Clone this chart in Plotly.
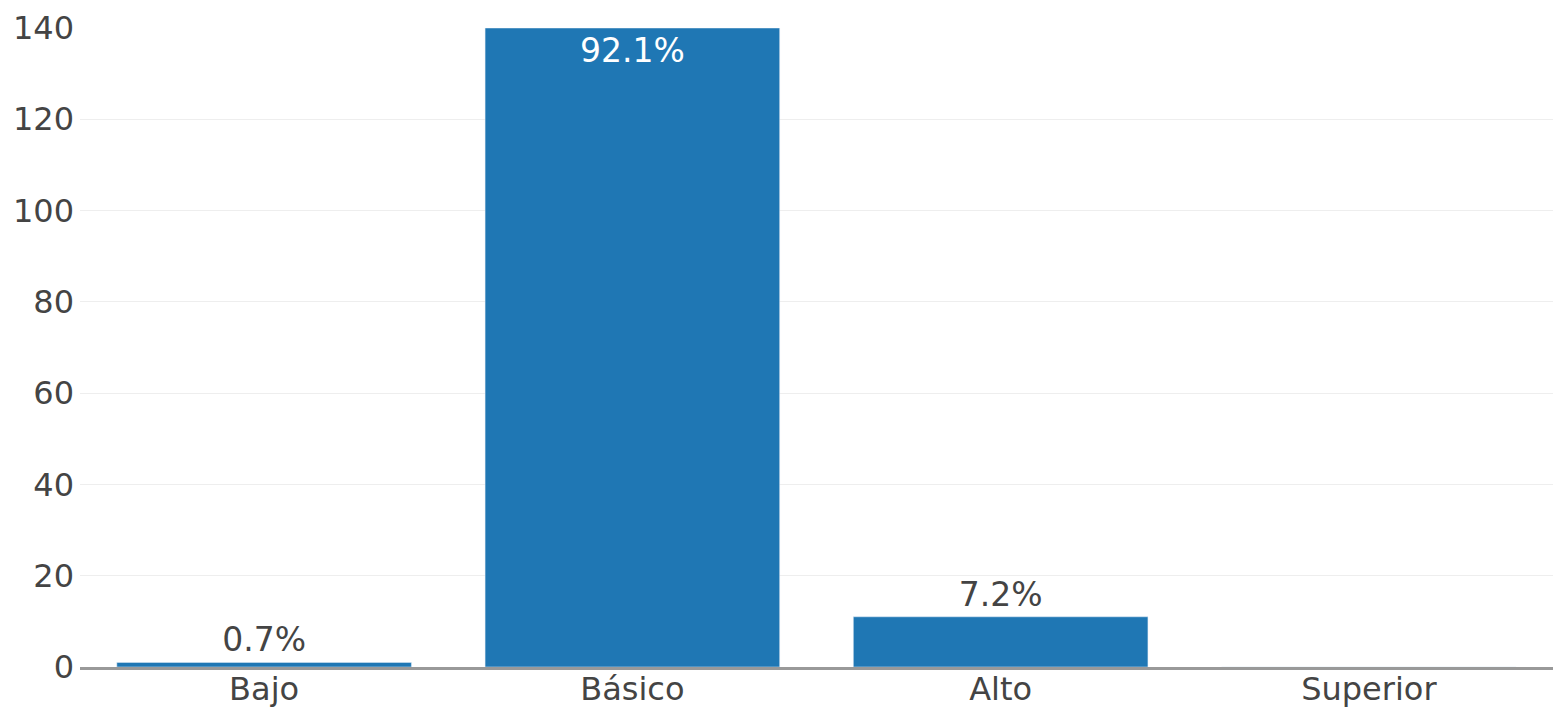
import plotly.graph_objects as go

categories = ["Bajo", "Básico", "Alto", "Superior"]
counts = [1, 140, 11, 0]
total = sum(counts)
labels = [f"{c / total * 100:.1f}%" if c > 0 else "" for c in counts]
positions = ["inside" if c == max(counts) else "outside" for c in counts]

fig = go.Figure(
    go.Bar(
        x=categories,
        y=counts,
        text=labels,
        textposition=positions,
        marker_color="#1f77b4",
        insidetextfont=dict(color="white", size=33, family="DejaVu Sans"),
        outsidetextfont=dict(color="#444", size=33, family="DejaVu Sans"),
        insidetextanchor="end",
        cliponaxis=False,
    )
)

fig.update_layout(
    width=1555,
    height=706,
    margin=dict(l=72, r=10, t=20, b=47),
    plot_bgcolor="white",
    paper_bgcolor="white",
    font=dict(family="DejaVu Sans", size=32, color="#444"),
    showlegend=False,
    bargap=0.2,
)
fig.update_xaxes(
    showline=True,
    linecolor="#999",
    linewidth=3,
    showgrid=False,
    ticks="",
    automargin=False,
    ticklabelstandoff=-8,
)
fig.update_yaxes(
    range=[0, 140],
    dtick=20,
    showgrid=True,
    gridcolor="#eee",
    gridwidth=1,
    zeroline=False,
    showline=False,
    ticks="",
    automargin=False,
    ticklabelstandoff=5,
)

fig.write_html("out.html")
